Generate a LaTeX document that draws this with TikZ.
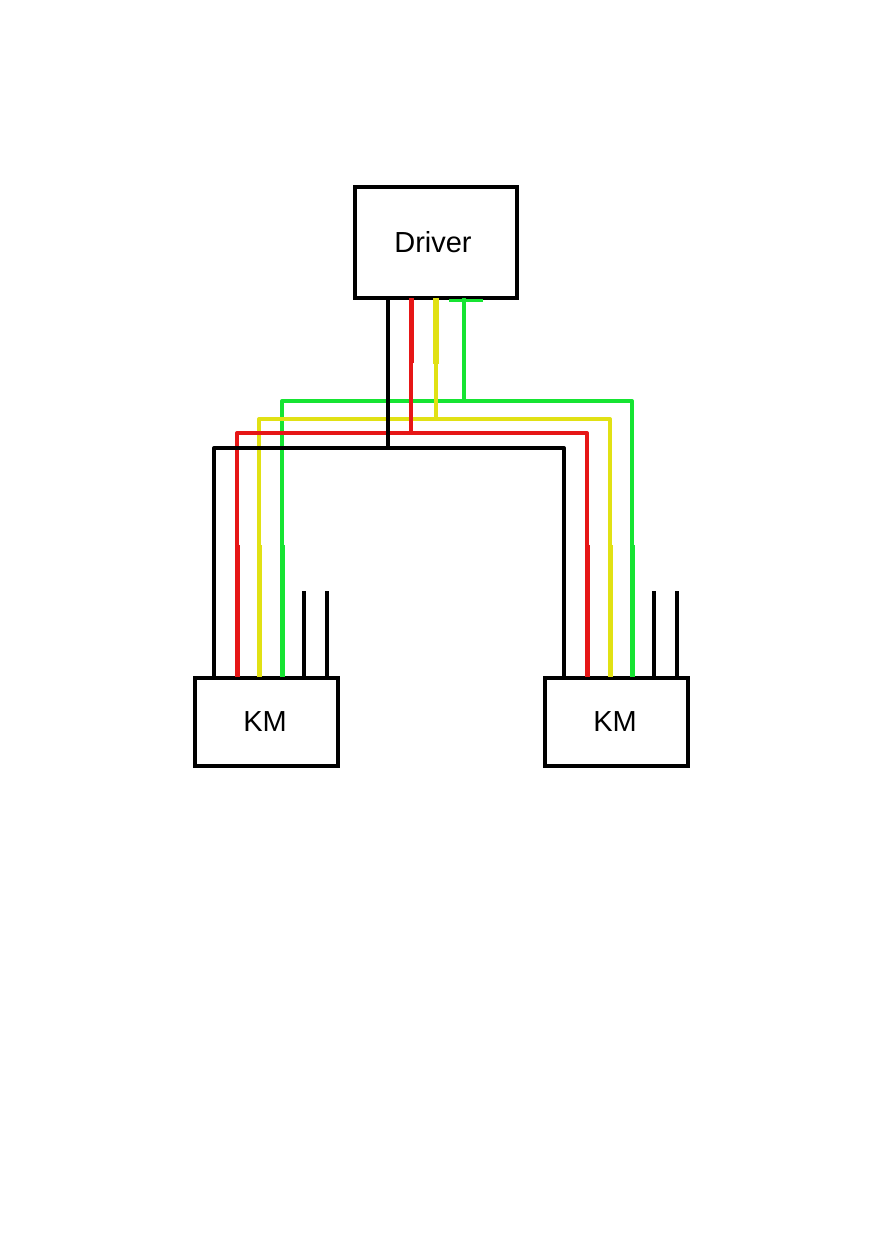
\documentclass[tikz,border=0pt]{standalone}
\usepackage{fontspec}
\setmainfont{Liberation Sans}
\definecolor{wred}{RGB}{230,22,22}
\definecolor{wyel}{RGB}{225,225,20}
\definecolor{wgrn}{RGB}{22,228,50}
\begin{document}
\begin{tikzpicture}[x=1pt,y=-1pt,
  box/.style={draw=black,line width=4.8pt,rectangle,inner sep=0pt,font=\fontsize{29}{33}\selectfont},
  wire/.style={line width=4pt,line join=round,line cap=butt},
  pin/.style={line width=5pt,line cap=butt}]
\useasboundingbox[fill=white] (0,0) rectangle (874,1240);
% boxes
\node[box,minimum width=162pt,minimum height=111pt] (drv) at (436,242.5) {\hspace*{-6pt}Driver};
\node[box,minimum width=143pt,minimum height=88pt] (kmL) at (266.5,722) {\hspace*{-3pt}KM};
\node[box,minimum width=143pt,minimum height=88pt] (kmR) at (616.5,722) {\hspace*{-3pt}KM};
% driver pins
\coordinate (dK) at (388,298); \coordinate (dR) at (411,298);
\coordinate (dY) at (436,298); \coordinate (dG) at (464,298);
% junctions
\coordinate (jK) at (388,448); \coordinate (jR) at (411,433);
\coordinate (jY) at (436,419); \coordinate (jG) at (464,401);
% KM pins
\foreach \n/\x in {LK/214,LR/237,LY/259,LG/282,LA/304,LB/327,RK/564,RR/587,RY/610,RG/632,RA/654,RB/677}
  \coordinate (p\n) at (\x,677);
% green
\draw[wire,wgrn] (pLG) -- (pLG |- jG) -- (pRG |- jG) -- (pRG);
\draw[wire,wgrn] (dG) -- (jG);
\draw[line width=2.5pt,wgrn] ([xshift=-15pt,yshift=-2.5pt]dG) -- ([xshift=19pt,yshift=-2.5pt]dG);
% yellow
\draw[wire,wyel] (pLY) -- (pLY |- jY) -- (pRY |- jY) -- (pRY);
\draw[wire,wyel] (dY) -- (jY);
% red
\draw[wire,wred] (pLR) -- (pLR |- jR) -- (pRR |- jR) -- (pRR);
\draw[wire,wred] (dR) -- (jR);
% black
\draw[wire,black] (pLK) -- (pLK |- jK) -- (pRK |- jK) -- (pRK);
\draw[wire,black] (dK) -- (jK);
% thicker pin segments near driver
\draw[pin,wred] (dR) -- ++(0,65);
\draw[pin,wyel,line width=6.5pt] (dY) -- ++(0,66);
\draw[pin,wgrn,line width=4.5pt] (dG) ++(0,2) -- ++(0,63);
% thicker pin segments near KMs
\foreach \p/\c in {LR/wred,LY/wyel,LG/wgrn,RR/wred,RY/wyel,RG/wgrn}
  \draw[pin,\c] (p\p) -- ++(0,-132);
% black stubs
\foreach \p in {LA,LB,RA,RB}
  \draw[wire,black] (p\p) -- ++(0,-86);
\end{tikzpicture}
\end{document}
